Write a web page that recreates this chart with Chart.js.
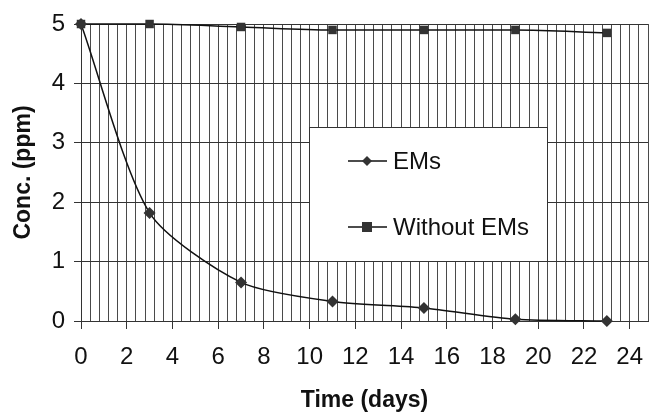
<!DOCTYPE html>
<html>
<head>
<meta charset="utf-8">
<script src="https://cdn.jsdelivr.net/npm/chart.js@4/dist/chart.umd.min.js"></script>
<style>
  html, body { margin: 0; padding: 0; background: #fff; }
  #wrap { width: 654px; height: 414px; position: relative; }
</style>
</head>
<body>
<div id="wrap"><canvas id="chart" width="654" height="414"></canvas></div>
<script>
// days sampled
var days = [0, 3, 7, 11, 15, 19, 23];
// concentration (ppm)
var concEMs = [5, 1.82, 0.65, 0.33, 0.22, 0.03, 0];
var concWithout = [5, 5, 4.95, 4.9, 4.9, 4.9, 4.85];
var seriesNames = ["EMs", "Without EMs"];

var FONT = "'Liberation Sans', Arial, sans-serif";

function toPoints(xs, ys) {
    var out = [];
    xs.forEach(function (x, i) { out.push({x: x, y: ys[i]}); });
    return out;
}

// legend box drawn inside the plot like the original
var boxLegend = {
    id: "boxLegend",
    afterDraw: function (chart) {
        var ctx = chart.ctx;
        var x0 = 309, y0 = 127, w = 238, h = 134;
        ctx.save();
        ctx.fillStyle = "#fff";
        ctx.fillRect(x0, y0, w, h);
        ctx.strokeStyle = "#333";
        ctx.lineWidth = 1;
        ctx.strokeRect(x0 + 0.5, y0 + 0.5, w, h);
        var rows = [y0 + 34, y0 + 100];
        chart.data.datasets.forEach(function (ds, i) {
            var y = rows[i];
            ctx.strokeStyle = "#111";
            ctx.lineWidth = 1.5;
            ctx.beginPath();
            ctx.moveTo(x0 + 39, y);
            ctx.lineTo(x0 + 78, y);
            ctx.stroke();
            ctx.fillStyle = "#333";
            if (ds.pointStyle === "rectRot") {
                ctx.beginPath();
                ctx.moveTo(x0 + 58, y - 5);
                ctx.lineTo(x0 + 63, y);
                ctx.lineTo(x0 + 58, y + 5);
                ctx.lineTo(x0 + 53, y);
                ctx.closePath();
                ctx.fill();
            } else {
                ctx.fillRect(x0 + 53, y - 5, 10, 10);
            }
            ctx.fillStyle = "#111";
            ctx.font = "24px " + FONT;
            ctx.textBaseline = "middle";
            ctx.textAlign = "left";
            ctx.fillText(ds.label, x0 + 84, y + 1);
        });
        ctx.restore();
    }
};

var ctx = document.getElementById("chart").getContext("2d");
new Chart(ctx, {
    type: "line",
    data: {
        datasets: [
            {
                label: seriesNames[0],
                data: toPoints(days, concEMs),
                borderColor: "#111",
                backgroundColor: "#333",
                borderWidth: 1.5,
                pointStyle: "rectRot",
                pointRadius: 6,
                pointBorderWidth: 0,
                clip: false,
                tension: 0.25
            },
            {
                label: seriesNames[1],
                data: toPoints(days, concWithout),
                borderColor: "#111",
                backgroundColor: "#333",
                borderWidth: 1.5,
                pointStyle: "rect",
                pointRadius: 6,
                pointBorderWidth: 0,
                clip: false,
                cubicInterpolationMode: "monotone"
            }
        ]
    },
    options: {
        responsive: false,
        animation: false,
        devicePixelRatio: 1,
        layout: { padding: { top: 24, right: 1, left: 0, bottom: 0 } },
        plugins: {
            legend: { display: false },
            tooltip: { enabled: false }
        },
        scales: {
            x: {
                type: "linear",
                min: 0,
                max: 24.8,
                afterFit: function (s) {
                    s.height = 93;
                    s.paddingLeft = 0;
                    s.paddingRight = 0;
                },
                afterBuildTicks: function (s) {
                    var t = [];
                    for (var i = 0; i <= 62; i++) t.push({value: Math.round(i * 0.4 * 10) / 10});
                    s.ticks = t;
                },
                ticks: {
                    autoSkip: false,
                    maxRotation: 0,
                    color: "#111",
                    padding: 14,
                    font: { family: FONT, size: 24 },
                    callback: function (v) { return (Math.abs(v % 2) < 1e-6) ? String(v) : ""; }
                },
                grid: {
                    color: "#4a4a4a",
                    lineWidth: 1,
                    tickLength: 8,
                    tickColor: function (c) {
                        var v = c.tick ? c.tick.value : 0;
                        return (Math.abs(v % 2) < 1e-6) ? "#333" : "rgba(0,0,0,0)";
                    }
                },
                border: { color: "#333", width: 1 },
                title: {
                    display: true,
                    text: "Time (days)",
                    color: "#111",
                    font: { family: FONT, size: 23, weight: "bold" },
                    padding: { top: 10, bottom: 0 }
                }
            },
            y: {
                min: 0,
                max: 5,
                afterFit: function (s) { s.width = 81; },
                ticks: {
                    stepSize: 1,
                    color: "#111",
                    padding: 9,
                    font: { family: FONT, size: 24 }
                },
                grid: { color: "#333", lineWidth: 1, tickLength: 7 },
                border: { color: "#333", width: 1 },
                title: {
                    display: true,
                    text: "Conc. (ppm)",
                    color: "#111",
                    font: { family: FONT, size: 23, weight: "bold" },
                    padding: { top: 10, bottom: 0 }
                }
            }
        }
    },
    plugins: [boxLegend]
});
</script>
</body>
</html>
